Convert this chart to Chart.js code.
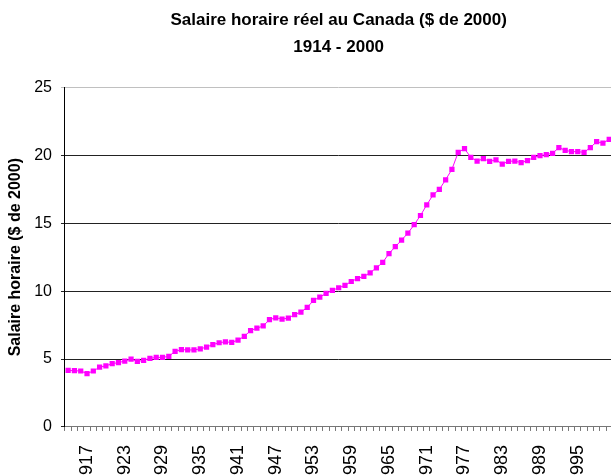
<!DOCTYPE html>
<html>
<head>
<meta charset="utf-8">
<script src="https://cdn.jsdelivr.net/npm/chart.js@4"></script>
<style>
  html, body { margin: 0; padding: 0; background: #fff; overflow: hidden; }
  #wrap { width: 645px; height: 499px; }
</style>
</head>
<body>
<div id="wrap"><canvas id="chart"></canvas></div>
<script>
// Real hourly wage in Canada, 2000 dollars
const firstYear = 1914;
const lastYear = 2000;
const years = [];
for (let y = firstYear; y <= lastYear; y++) years.push(String(y));

const wages = [
  4.16, 4.14, 4.12, 3.93, 4.12, 4.40,                              // 1914-1919
  4.50, 4.66, 4.74, 4.85, 5.00, 4.83, 4.90, 5.05, 5.12, 5.12,      // 1920s
  5.20, 5.57, 5.69, 5.67, 5.67, 5.75, 5.88, 6.07, 6.20, 6.27,      // 1930s
  6.22, 6.40, 6.67, 7.10, 7.27, 7.44, 7.90, 8.04, 7.94, 8.02,      // 1940s
  8.27, 8.46, 8.80, 9.32, 9.56, 9.83, 10.06, 10.25, 10.42, 10.71,  // 1950s
  10.93, 11.08, 11.35, 11.72, 12.11, 12.77, 13.27, 13.76, 14.27, 14.89, // 1960s
  15.57, 16.35, 17.09, 17.49, 18.20, 18.97, 20.22, 20.49, 19.85, 19.58, // 1970s
  19.75, 19.56, 19.66, 19.36, 19.56, 19.58, 19.46, 19.61, 19.85, 19.98, // 1980s
  20.05, 20.15, 20.57, 20.37, 20.27, 20.27, 20.22, 20.57, 21.01, 20.89, // 1990s
  21.18                                                              // 2000
];

const shownYears = ['1917', '1923', '1929', '1935', '1941', '1947', '1953',
  '1959', '1965', '1971', '1977', '1983', '1989', '1995'];

Chart.defaults.font.family = '"Liberation Sans", Arial, sans-serif';
Chart.defaults.color = '#000';

new Chart(document.getElementById('chart'), {
  type: 'line',
  data: {
    labels: years,
    datasets: [{
      data: wages,
      borderColor: '#ff00ff',
      backgroundColor: '#ff00ff',
      borderWidth: 1,
      pointStyle: 'rect',
      pointRadius: 3.7,
      pointBorderWidth: 0,
      tension: 0
    }]
  },
  options: {
    responsive: true,
    maintainAspectRatio: false,
    animation: false,
    layout: { padding: { left: 0, right: 0, top: 0, bottom: 0 } },
    plugins: {
      legend: { display: false },
      tooltip: { enabled: false },
      title: {
        display: true,
        fullSize: false,
        text: ['Salaire horaire réel au Canada ($ de 2000)', '1914 - 2000'],
        color: '#000',
        font: { size: 17, weight: 'bold', lineHeight: 1.63 },
        padding: { top: 6, bottom: 26 }
      }
    },
    scales: {
      x: {
        offset: true,
        grid: { display: true, drawOnChartArea: false, drawTicks: true, tickLength: 4, offset: true, color: '#777' },
        border: { color: '#777' },
        ticks: {
          autoSkip: false,
          minRotation: 90,
          maxRotation: 90,
          padding: 14,
          font: { size: 18 },
          callback: function (v) {
            const l = this.getLabelForValue(v);
            return shownYears.includes(l) ? l : '';
          }
        }
      },
      y: {
        min: 0,
        max: 25,
        ticks: { stepSize: 5, padding: 9, font: { size: 16 } },
        grid: {
          tickLength: 4,
          color: ctx => ctx.tick && ctx.tick.value === 25 ? '#c0c0c0' : '#222'
        },
        border: { color: '#000' },
        title: {
          display: true,
          text: 'Salaire horaire ($ de 2000)',
          font: { size: 16, weight: 'bold' },
          padding: { top: 6, bottom: 0 }
        }
      }
    }
  }
});
</script>
</body>
</html>
